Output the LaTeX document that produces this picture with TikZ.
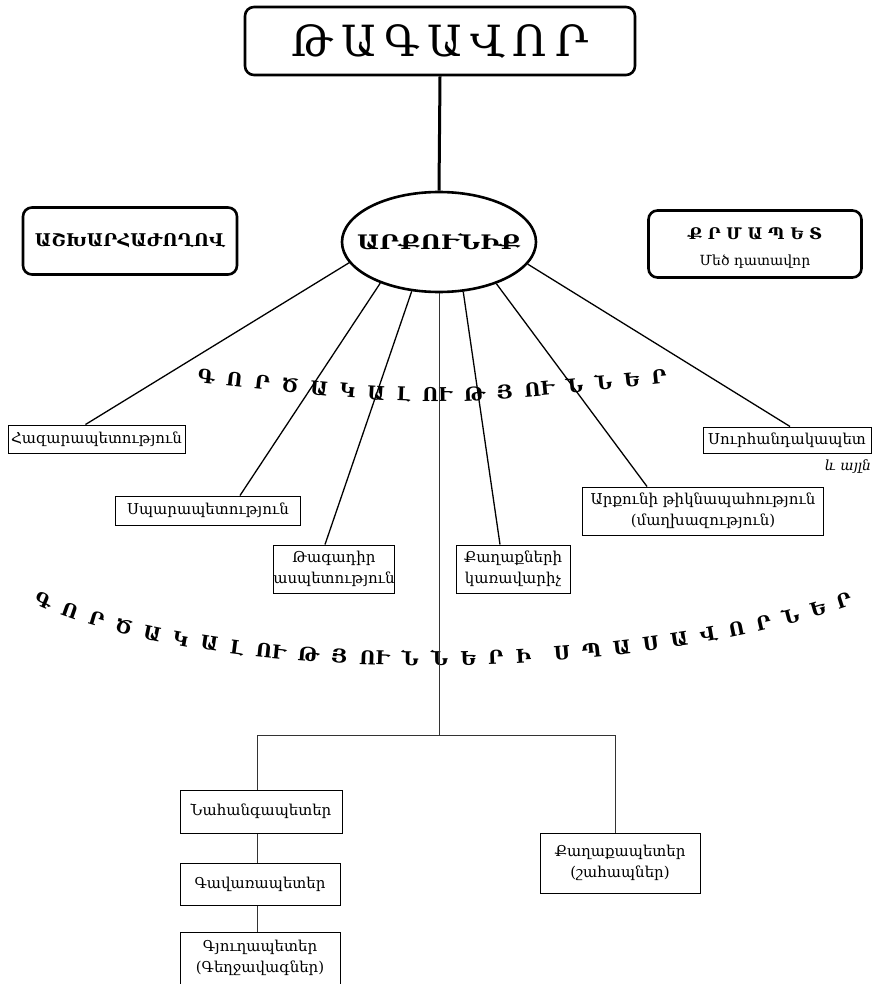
\documentclass[tikz,border=0pt]{standalone}
\usepackage{fontspec}
\usepackage{graphicx}
\setmainfont{DejaVu Serif}
\usetikzlibrary{shapes.geometric,decorations.text}
\begin{document}
\begin{tikzpicture}[x=1pt,y=-1pt,
  thickbox/.style={draw, line width=2.6pt, rounded corners=9pt, inner sep=0pt, align=center},
  thinbox/.style={draw, line width=1pt, inner sep=0pt, align=center, font=\fontsize{15}{21}\selectfont},
  fan/.style={line width=1.3pt},
  tree/.style={line width=1pt, draw=black!80},
  arctext/.style={decorate, decoration={text along path, text align={fit to path stretching spaces}}},
]
\useasboundingbox (0,0) rectangle (882,984);
\fill[white] (0,0) rectangle (882,984);

% top row
\node[thickbox, minimum width=390pt, minimum height=68pt] (king) at (440,41)
  {\fontsize{43}{48}\selectfont Թ\hspace{8pt}Ա\hspace{8pt}Գ\hspace{8pt}Ա\hspace{8pt}Վ\hspace{8pt}Ո\hspace{8pt}Ր};
\node[thickbox, minimum width=214pt, minimum height=67pt] (council) at (130,241)
  {\fontsize{17.5}{20}\selectfont\bfseries ԱՇԽԱՐՀԱԺՈՂՈՎ};
\node[draw, ellipse, line width=2.6pt, minimum width=194pt, minimum height=100pt, inner sep=0pt] (ark) at (439,242)
  {\makebox[0pt]{\scalebox{1.2}[1]{\fontsize{20}{22}\selectfont\bfseries ԱՐՔՈՒՆԻՔ}}};
\node[thickbox, minimum width=213pt, minimum height=67pt, font=\fontsize{14}{26}\selectfont] (krm) at (755,244)
  {\rule{0pt}{20pt}{\fontsize{16}{26}\selectfont\bfseries Ք Ր Մ Ա Պ Ե Տ}\\Մեծ դատավոր};

\draw[line width=3pt] (king.south) -- (ark.north);

% offices
\node[thinbox, minimum width=177pt, minimum height=28pt] (hazar) at (96.5,439) {Հազարապետություն};
\node[thinbox, minimum width=185pt, minimum height=29pt] (spar) at (208,510.5) {Սպարապետություն};
\node[thinbox, minimum width=102pt, minimum height=48pt] (tag) at (334,569) {Թագադիր\\ասպետություն};
\node[thinbox, minimum width=114pt, minimum height=48pt] (kagh) at (513,569) {Քաղաքների\\կառավարիչ};
\node[thinbox, minimum width=241pt, minimum height=48pt] (tikn) at (703,511) {Արքունի թիկնապահություն\\(մաղխազություն)};
\node[thinbox, minimum width=168pt, minimum height=26pt] (surh) at (787,440) {Սուրհանդակապետ};
\node[font=\fontsize{14}{16}\selectfont\itshape] (etc) at (848,467) {և այլն};

\draw[fan] (ark.193) -- ([xshift=-11pt]hazar.north);
\draw[fan] (ark.215) -- ([xshift=32pt]spar.north);
\draw[fan] (ark.241) -- ([xshift=-9pt]tag.north);
\draw[fan] (ark.296) -- ([xshift=-13pt]kagh.north);
\draw[fan] (ark.324) -- ([xshift=-56pt]tikn.north);
\draw[fan] (ark.346) -- ([xshift=3pt]surh.north);

% arc texts
\path[arctext, decoration={text={|\fontsize{19}{19}\selectfont\bfseries|Գ Ո Ր Ծ Ա Կ Ա Լ ՈՒ Թ Յ ՈՒ Ն Ն Ե Ր}}]
  (197,382) .. controls (432,408) .. (667,383);
\path[arctext, decoration={text={|\fontsize{19}{19}\selectfont\bfseries|Գ Ո Ր Ծ Ա Կ Ա Լ ՈՒ Թ Յ ՈՒ Ն Ն Ե Ր Ի}}]
  (33,603) .. controls (138.2,652.1) and (335.9,674.3) .. (531,662.5);
\path[arctext, decoration={text={|\fontsize{19}{19}\selectfont\bfseries|Ս Պ Ա Ս Ա Վ Ո Ր Ն Ե Ր}}]
  (554.3,660.9) .. controls (660.9,652.9) and (765.7,634.7) .. (853,605);

% lower tree
\node[thinbox, minimum width=162pt, minimum height=43pt] (nah) at (261,811.5) {Նահանգապետեր};
\node[thinbox, minimum width=160pt, minimum height=42pt] (gav) at (260,884) {Գավառապետեր};
\node[thinbox, minimum width=160pt, minimum height=52pt] (gyu) at (260,958) {Գյուղապետեր\\(Գեղջավագներ)};
\node[thinbox, minimum width=160pt, minimum height=60pt] (kpet) at (620,863) {Քաղաքապետեր\\(շահապներ)};

\coordinate (split) at (439,735);
\coordinate (bl) at (257,735);
\coordinate (br) at (615,735);
\draw[tree] (ark.south) -- (split);
\draw[tree] (bl) -- (br);
\draw[tree] (bl) -- (bl |- nah.north);
\draw[tree] (br) -- (br |- kpet.north);
\draw[tree] (bl |- nah.south) -- (bl |- gav.north);
\draw[tree] (bl |- gav.south) -- (bl |- gyu.north);
\end{tikzpicture}
\end{document}
